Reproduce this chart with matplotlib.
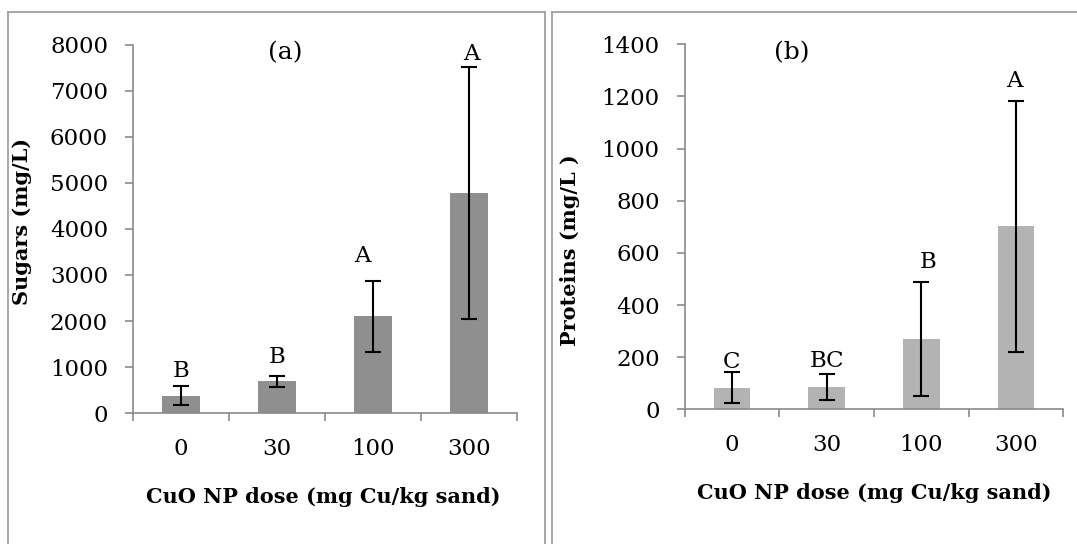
import matplotlib
matplotlib.use('Agg')
import matplotlib.pyplot as plt
from matplotlib.lines import Line2D

# CuO nanoparticle dose groups
doses = ['0', '30', '100', '300']

# sugars (mg/L): mean and error
sugars = [380, 690, 2100, 4790]
sugars_err = [215, 115, 770, 2740]
sugars_groups = ['B', 'B', 'A', 'A']

# proteins (mg/L): mean and error
proteins = [83, 87, 269, 702]
proteins_err = [60, 50, 218, 482]
proteins_groups = ['C', 'BC', 'B', 'A']

plt.rcParams['font.family'] = ['DejaVu Serif']
AXIS_GRAY = '#8a8a8a'
FS = 16.5      # tick labels and letters
FS_LABEL = 15  # bold axis titles


def draw_panel(ax, values, errors, groups, color, ymax, ystep, ylabel,
               letter_dx, letter_dy):
    x = list(range(len(doses)))
    ax.bar(x, values, width=0.39, color=color, zorder=2)
    ax.errorbar(x, values, yerr=errors, fmt='none', ecolor='black',
                elinewidth=1.5, capsize=5.5, capthick=1.5, zorder=3)

    for i, g in enumerate(groups):
        ax.annotate(g, (x[i], values[i] + errors[i]),
                    xytext=(letter_dx[i], letter_dy[i]), textcoords='offset points',
                    ha='center', va='baseline', fontsize=FS)

    ax.set_xlim(-0.5, len(doses) - 0.5)
    ax.set_ylim(0, ymax)
    ax.set_yticks(range(0, ymax + 1, ystep))
    ax.set_xticks(x)
    ax.set_xticklabels(doses)
    ax.set_xticks([i - 0.5 for i in range(len(doses) + 1)], minor=True)

    for side in ['top', 'right']:
        ax.spines[side].set_visible(False)
    for side in ['left', 'bottom']:
        ax.spines[side].set_color(AXIS_GRAY)
        ax.spines[side].set_linewidth(1.2)

    ax.tick_params(axis='x', which='major', length=0, pad=18, labelsize=FS)
    ax.tick_params(axis='x', which='minor', length=6, width=1.2, color=AXIS_GRAY,
                   direction='out')
    ax.tick_params(axis='y', length=6, width=1.2, color=AXIS_GRAY, pad=12,
                   labelsize=FS)

    ax.set_ylabel(ylabel, fontweight='bold', fontsize=FS_LABEL)
    ax.set_xlabel('CuO NP dose (mg Cu/kg sand)', fontweight='bold',
                  fontsize=FS_LABEL)
    return ax


fig = plt.figure(figsize=(10.77, 5.44), dpi=100)

ax1 = fig.add_axes([0.1235, 0.2408, 0.3566, 0.6765])
draw_panel(ax1, sugars, sugars_err, sugars_groups, '#8f8f8f', 8000, 1000,
           'Sugars (mg/L)',
           letter_dx=[0, 0, -8, 2], letter_dy=[6.5, 9, 14, 5])
ax1.text(0.396, 0.978, '(a)', transform=ax1.transAxes, ha='center',
         va='center', fontsize=18)
ax1.yaxis.set_label_coords(-0.263, 0.52)
ax1.xaxis.set_label_coords(0.495, -0.201)

ax2 = fig.add_axes([0.6357, 0.2476, 0.3516, 0.671])
draw_panel(ax2, proteins, proteins_err, proteins_groups, '#b3b3b3', 1400, 200,
           'Proteins (mg/L )',
           letter_dx=[0, 0, 5, -1], letter_dy=[3, 4.5, 10.5, 9.5])
ax2.text(0.283, 0.976, '(b)', transform=ax2.transAxes, ha='center',
         va='center', fontsize=18)
ax2.yaxis.set_label_coords(-0.276, 0.436)
ax2.xaxis.set_label_coords(0.5, -0.202)

# frames around the two panels
W, H = 1077, 544
frame = dict(color='#a0a0a0', linewidth=1.3, transform=fig.transFigure)
fig.add_artist(Line2D([8 / W, 8 / W], [0, 1 - 12 / H], **frame))
fig.add_artist(Line2D([8 / W, 545 / W], [1 - 12 / H, 1 - 12 / H], **frame))
fig.add_artist(Line2D([545 / W, 545 / W], [0, 1 - 12 / H], **frame))
fig.add_artist(Line2D([552 / W, 552 / W], [0, 1 - 12 / H], **frame))
fig.add_artist(Line2D([552 / W, 1], [1 - 12 / H, 1 - 12 / H], **frame))

fig.savefig('out.png', dpi=100)
